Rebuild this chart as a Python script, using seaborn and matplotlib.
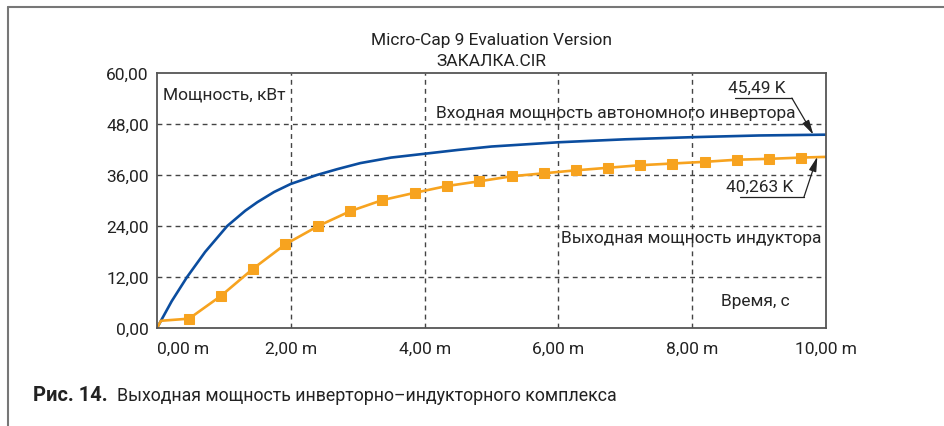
import matplotlib
matplotlib.use("Agg")
import matplotlib.pyplot as plt
from matplotlib.lines import Line2D
import seaborn as sns

# время, мс
t_in = [0, 0.22, 0.45, 0.72, 1.05, 1.32, 1.5, 1.75, 2.0, 2.39, 2.7, 3.04, 3.5,
        4.0, 4.5, 5.0, 6.0, 7.0, 8.0, 9.0, 10.0]
# входная мощность автономного инвертора, кВт
p_in = [0, 6.3, 12.0, 17.9, 24.0, 27.6, 29.6, 32.0, 33.9, 36.0, 37.4, 38.8, 40.1,
        41.0, 41.9, 42.7, 43.7, 44.4, 44.9, 45.3, 45.49]

t_out = [0, 0.06, 0.48, 0.96, 1.44, 1.92, 2.41, 2.89, 3.37, 3.85, 4.33, 4.81,
         5.30, 5.78, 6.26, 6.74, 7.22, 7.70, 8.19, 8.67, 9.15, 9.63, 10.0]
# выходная мощность индуктора, кВт
p_out = [0, 1.7, 2.2, 7.6, 14.0, 19.7, 24.0, 27.5, 30.1, 31.8, 33.4, 34.5,
         35.7, 36.4, 37.1, 37.7, 38.3, 38.7, 39.1, 39.6, 39.8, 40.1, 40.263]

x_ticks = [0, 2, 4, 6, 8, 10]
x_labels = ["0,00 m", "2,00 m", "4,00 m", "6,00 m", "8,00 m", "10,00 m"]
y_ticks = [0, 12, 24, 36, 48, 60]
y_labels = ["0,00", "12,00", "24,00", "36,00", "48,00", "60,00"]

BLUE = "#0b4d9f"
ORANGE = "#f7a31f"
GRID = "#444444"
INK = "#222222"
FS = 12.5

sns.set_style("white")
plt.rcParams["font.family"] = ["Roboto", "DejaVu Sans"]
plt.rcParams["font.size"] = FS

fig = plt.figure(figsize=(9.45, 4.27), dpi=100)
ax = fig.add_axes([0.1661, 0.2295, 0.708, 0.5972])

sns.lineplot(x=t_in, y=p_in, color=BLUE, linewidth=1.9, ax=ax, sort=False)
sns.lineplot(x=t_out, y=p_out, color=ORANGE, linewidth=1.9, ax=ax, sort=False,
             marker="s", markersize=6.5, markeredgecolor=ORANGE,
             markevery=list(range(2, len(t_out) - 1)))

ax.set_xlim(0, 10)
ax.set_ylim(0, 60)
ax.set_xticks(x_ticks)
ax.set_xticklabels(x_labels)
ax.set_yticks(y_ticks)
ax.set_yticklabels(y_labels)
ax.get_xticklabels()[0].set_horizontalalignment("left")
ax.tick_params(axis="x", length=0, pad=9, labelsize=FS, colors=INK)
ax.tick_params(axis="y", length=0, pad=6, labelsize=FS, colors=INK)

for v in y_ticks[1:-1]:
    ax.axhline(v, color=GRID, lw=1, ls=(0, (3.5, 3)), zorder=0)
for v in x_ticks[1:-1]:
    ax.axvline(v, color=GRID, lw=1, ls=(0, (3.5, 3)), zorder=0)

for s in ax.spines.values():
    s.set_color("#555555")
    s.set_linewidth(1.3)

# тексты внутри графика
ax.text(0.09, 55.1, "Мощность, кВт", ha="left", va="center")
ax.text(9.54, 50.8, "Входная мощность автономного инвертора", ha="right", va="center")
ax.text(6.04, 21.2, "Выходная мощность индуктора", ha="left", va="center")
ax.text(8.94, 6.4, "Время, с", ha="center", va="center")

# выноски
ax.text(8.97, 56.7, "45,49 K", ha="center", va="center")
ax.plot([8.64, 9.49], [54.1, 54.1], color=INK, lw=0.9, clip_on=False)
ax.annotate("", xy=(9.81, 45.5), xytext=(9.49, 54.1),
            arrowprops=dict(arrowstyle="-|>,head_length=0.7,head_width=0.18",
                            color=INK, lw=0.9, shrinkA=0, shrinkB=0))
ax.text(9.01, 33.4, "40,263 K", ha="center", va="center")
ax.plot([8.71, 9.67], [30.8, 30.8], color=INK, lw=0.9, clip_on=False)
ax.annotate("", xy=(9.87, 40.3), xytext=(9.67, 30.8),
            arrowprops=dict(arrowstyle="-|>,head_length=0.7,head_width=0.18",
                            color=INK, lw=0.9, shrinkA=0, shrinkB=0))

# заголовок
fig.text(0.5196, 1 - 40 / 427, "Micro-Cap 9 Evaluation Version", ha="center", va="center",
         fontsize=FS, color=INK)
fig.text(0.5196, 1 - 62 / 427, "ЗАКАЛКА.CIR", ha="center", va="center",
         fontsize=FS, color=INK)

# подпись
fig.text(33 / 945, 1 - 396 / 427, "Рис. 14.", ha="left", va="center",
         fontsize=14.5, fontweight="bold", color=INK)
fig.text(117 / 945, 1 - 396 / 427, "Выходная мощность инверторно–индукторного комплекса",
         ha="left", va="center", fontsize=12.8, color=INK)

# рамка
fig.add_artist(Line2D([8 / 945, 8 / 945], [0, 1 - 8 / 427], color="#777777", lw=1.5))
fig.add_artist(Line2D([8 / 945, 1], [1 - 8 / 427, 1 - 8 / 427], color="#777777", lw=1.5))

fig.savefig("out.png", dpi=100)
